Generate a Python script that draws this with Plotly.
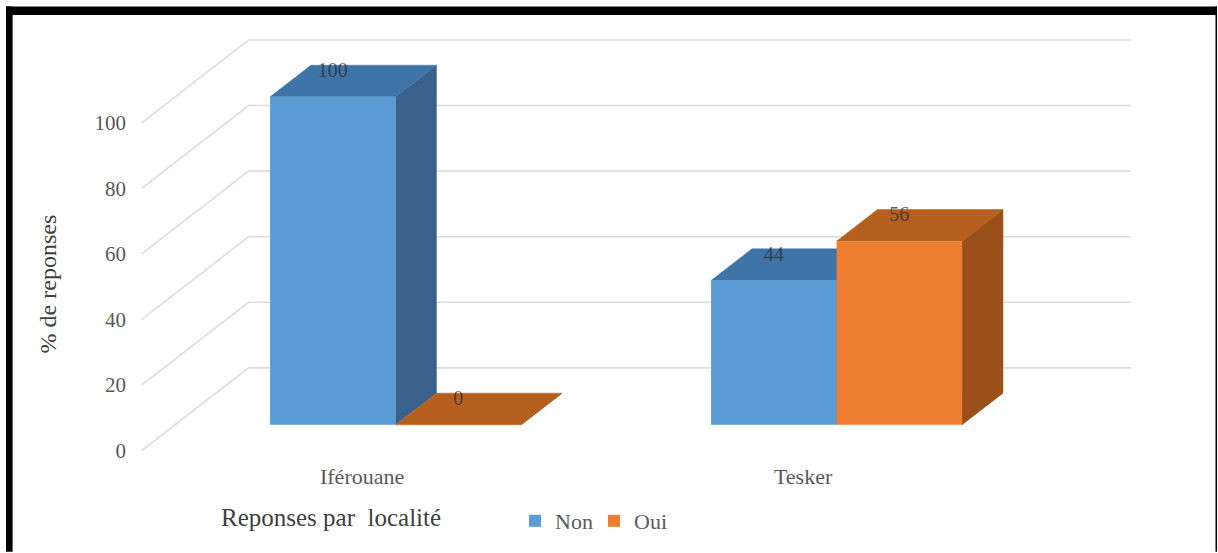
import plotly.graph_objects as go

# Data
localites = ["Iférouane", "Tesker"]
non_values = [100, 44]
oui_values = [0, 56]
value_ticks = [0, 20, 40, 60, 80, 100]

# Page and plot area, in pixels
WIDTH, HEIGHT = 1218, 553
LEFT, RIGHT, TOP, BOTTOM = 130, 1140, 25, 462
PLOT_W, PLOT_H = RIGHT - LEFT, BOTTOM - TOP

# Scales of the category and value axes
CAT_PX, CAT_ZERO_PX = 441.0, 362.1
VAL_PX, VAL_ZERO_PX = 3.287, 451.7
X_RANGE = [(LEFT - CAT_ZERO_PX) / CAT_PX, (RIGHT - CAT_ZERO_PX) / CAT_PX]
Y_RANGE = [(VAL_ZERO_PX - BOTTOM) / VAL_PX, (VAL_ZERO_PX - TOP) / VAL_PX]

# Oblique projection of the chart box: depth 0 is the front edge, depth 1 the back wall
DEPTH_X = 107 / CAT_PX
DEPTH_Y = 83 / VAL_PX
BAR_FRONT, BAR_BACK = 0.313, 0.695
BAR_W = 125.5 / CAT_PX
WALL_LEFT, WALL_RIGHT = -0.5, 1.5
LABEL_RISE = 7.6

BLUE = {"front": "#5B9BD5", "top": "#3F74A8", "side": "#3A618C"}
ORANGE = {"front": "#ED7D31", "top": "#B5601F", "side": "#9A5018"}
GRID = "#DCDCDC"
TEXT = "#595959"
SERIF = "Liberation Serif"


def project(x, value, depth):
    return x + depth * DEPTH_X, value + depth * DEPTH_Y


def polygon(corners, color):
    xs, ys = zip(*corners)
    return go.Scatter(x=list(xs) + [xs[0]], y=list(ys) + [ys[0]], mode="lines", fill="toself",
                      fillcolor=color, line=dict(color=color, width=0.5),
                      showlegend=False, hoverinfo="skip")


def paper_x(px):
    return (px - LEFT) / PLOT_W


def paper_y(px):
    return (BOTTOM - px) / PLOT_H


fig = go.Figure()

# Side wall and back wall gridlines
grid_x, grid_y = [], []
for tick in value_ticks:
    for x, depth in [(WALL_LEFT, 0), (WALL_LEFT, 1), (WALL_RIGHT, 1)]:
        px, py = project(x, tick, depth)
        grid_x.append(px)
        grid_y.append(py)
    grid_x.append(None)
    grid_y.append(None)
fig.add_trace(go.Scatter(x=grid_x, y=grid_y, mode="lines", line=dict(color=GRID, width=1.6),
                         showlegend=False, hoverinfo="skip"))

# Top and side faces of every column, drawn series by series
series = [("Non", non_values, -BAR_W, BLUE), ("Oui", oui_values, 0.0, ORANGE)]
for cat, _ in enumerate(localites):
    for _, values, offset, colors in series:
        left, right = cat + offset, cat + offset + BAR_W
        value = values[cat]
        fig.add_trace(polygon([project(right, 0, BAR_FRONT), project(right, 0, BAR_BACK),
                               project(right, value, BAR_BACK), project(right, value, BAR_FRONT)],
                              colors["side"]))
        fig.add_trace(polygon([project(left, value, BAR_FRONT), project(left, value, BAR_BACK),
                               project(right, value, BAR_BACK), project(right, value, BAR_FRONT)],
                              colors["top"]))

# Front faces sit on an overlaid pair of axes so they cover the faces behind them
front_x = [cat + BAR_FRONT * DEPTH_X for cat in range(len(localites))]
for name, values, offset, colors in series:
    fig.add_trace(go.Bar(name=name, x=front_x, y=values, base=BAR_FRONT * DEPTH_Y, width=BAR_W,
                         offset=offset, marker=dict(color=colors["front"], line=dict(width=0)),
                         xaxis="x2", yaxis="y2", hoverinfo="skip"))

    # Value labels above each front face
    fig.add_trace(go.Scatter(x=[fx + offset + BAR_W / 2 for fx in front_x],
                             y=[v + BAR_FRONT * DEPTH_Y + LABEL_RISE for v in values],
                             text=[str(v) for v in values], mode="text", textposition="middle center",
                             textfont=dict(family=SERIF, size=20, color="rgba(45,45,45,0.75)"),
                             xaxis="x2", yaxis="y2", showlegend=False, hoverinfo="skip"))

# Frame around the chart
frame = [(6, 6.5, 1217, 15), (6, 6.5, 12.6, 553), (1215.5, 6.5, 1217, 553)]
shapes = [dict(type="rect", xref="paper", yref="paper", x0=paper_x(a), x1=paper_x(c),
               y0=paper_y(b), y1=paper_y(d), fillcolor="#000000", line=dict(width=0), layer="above")
          for a, b, c, d in frame]

annotations = [
    dict(text="Reponses par\u00a0\u00a0localité", xref="paper", yref="paper", x=paper_x(331), y=paper_y(519),
         xanchor="center", yanchor="middle", showarrow=False,
         font=dict(family=SERIF, size=25, color="#404040")),
    dict(text="% de reponses", xref="paper", yref="paper", x=paper_x(48), y=paper_y(285),
         xanchor="center", yanchor="middle", textangle=-90, showarrow=False,
         font=dict(family=SERIF, size=24, color="#404040")),
]

axis_common = dict(showgrid=False, zeroline=False, showline=False, ticks="")
fig.update_layout(
    width=WIDTH, height=HEIGHT, autosize=False,
    margin=dict(l=LEFT, r=WIDTH - RIGHT, t=TOP, b=HEIGHT - BOTTOM),
    paper_bgcolor="#FFFFFF", plot_bgcolor="rgba(0,0,0,0)",
    barmode="overlay", shapes=shapes, annotations=annotations,
    xaxis=dict(range=X_RANGE, tickmode="array", tickvals=list(range(len(localites))), ticktext=localites,
               tickfont=dict(family=SERIF, size=22, color=TEXT), **axis_common),
    yaxis=dict(range=Y_RANGE, tickmode="array", tickvals=value_ticks, ticklabelstandoff=3,
               tickfont=dict(family=SERIF, size=21, color=TEXT), **axis_common),
    xaxis2=dict(range=X_RANGE, overlaying="x", visible=False),
    yaxis2=dict(range=Y_RANGE, overlaying="y", visible=False),
    legend=dict(orientation="h", x=paper_x(515), y=paper_y(521), xanchor="left", yanchor="middle",
                entrywidth=34, entrywidthmode="pixels", bgcolor="rgba(0,0,0,0)",
                font=dict(family=SERIF, size=22, color=TEXT)),
)

fig.write_html("out.html")
